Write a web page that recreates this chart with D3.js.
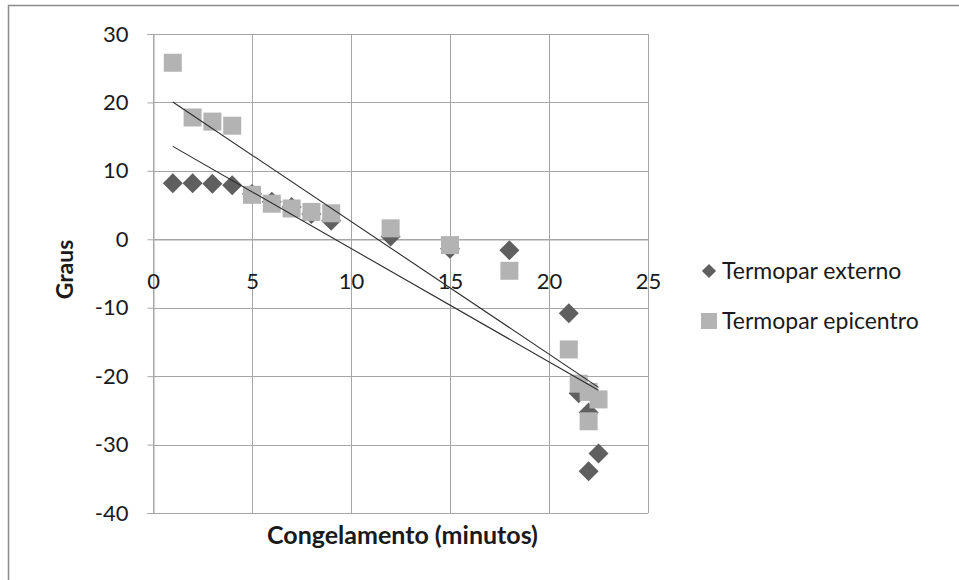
<!DOCTYPE html>
<html>
<head>
<meta charset="utf-8">
<script src="https://cdn.jsdelivr.net/npm/d3@7"></script>
<style>
  html, body { margin: 0; padding: 0; background: #fff; }
  svg { display: block; font-family: Lato, "Open Sans", sans-serif; }
</style>
</head>
<body>
<svg id="chart" width="959" height="580"></svg>
<script>
// Freezing time (minutes) and temperature readings of the two thermocouples
const minutos = [1, 2, 3, 4, 5, 6, 7, 8, 9, 12, 15, 18, 21, 21.5, 22, 22, 22.5];
const termoparExterno = [8.2, 8.2, 8.1, 7.9, 6.6, 5.5, 4.7, 3.7, 2.7, 0.4, -1.4, -1.6, -10.8, -22.5, -25.3, -33.9, -31.3];
const termoparEpicentro = [25.8, 17.8, 17.2, 16.6, 6.5, 5.2, 4.5, 4.0, 3.8, 1.6, -0.85, -4.6, -16.1, -21.1, -22.3, -26.6, -23.4];
const seriesNames = ["Termopar externo", "Termopar epicentro"];
const xTicks = [0, 5, 10, 15, 20, 25];
const yTicks = [-40, -30, -20, -10, 0, 10, 20, 30];

const svg = d3.select("#chart");
const W = 959, H = 580;
const plot = { left: 153, right: 648, top: 34, bottom: 513 };
const textColor = "#1a1a1a";
const tickFont = 22;

const x = d3.scaleLinear().domain([0, 25]).range([plot.left, plot.right]);
const y = d3.scaleLinear().domain([-40, 30]).range([plot.bottom, plot.top]);

const gridColor = "#a6a6a6";
const extColor = "#5f5f5f";
const epiColor = "#b3b3b3";

// outer frame of the chart
svg.append("path")
  .attr("d", `M8.5,${H} V5.5 H${W}`)
  .attr("fill", "none").attr("stroke", "#8c8c8c").attr("stroke-width", 1.5);

// gridlines
const grid = svg.append("g");
grid.selectAll("line.gy").data(yTicks).join("line")
  .attr("x1", plot.left).attr("x2", plot.right)
  .attr("y1", d => Math.round(y(d)) + 0.5).attr("y2", d => Math.round(y(d)) + 0.5)
  .attr("stroke", gridColor).attr("stroke-width", 1);
grid.selectAll("line.gx").data(xTicks).join("line")
  .attr("y1", plot.top).attr("y2", plot.bottom)
  .attr("x1", d => Math.round(x(d)) + 0.5).attr("x2", d => Math.round(x(d)) + 0.5)
  .attr("stroke", gridColor).attr("stroke-width", 1);

const fmt = d => String(d);

// y axis on the left edge
const yAxis = svg.append("g")
  .attr("transform", `translate(${Math.round(x(0)) + 0.5},0)`)
  .call(d3.axisLeft(y).tickValues(yTicks).tickSize(6).tickPadding(19).tickFormat(fmt));
yAxis.select(".domain").attr("stroke", gridColor);
yAxis.selectAll(".tick line").attr("stroke", gridColor);
yAxis.selectAll(".tick text")
  .attr("font-size", tickFont).attr("fill", textColor).attr("font-family", "Lato, sans-serif");

// x axis crossing at y = 0
const xAxis = svg.append("g")
  .attr("transform", `translate(0,${Math.round(y(0)) + 0.5})`)
  .call(d3.axisBottom(x).tickValues(xTicks).tickSize(6).tickPadding(28).tickFormat(fmt));
xAxis.select(".domain").attr("stroke", gridColor);
xAxis.selectAll(".tick line").attr("stroke", gridColor);
xAxis.selectAll(".tick text")
  .attr("font-size", tickFont).attr("fill", textColor).attr("font-family", "Lato, sans-serif");

const pts = minutos.map((m, i) => ({ m, ext: termoparExterno[i], epi: termoparEpicentro[i] }));

// markers: diamonds for the outer thermocouple, squares for the epicentre
svg.append("g").selectAll("path").data(pts).join("path")
  .attr("transform", d => `translate(${x(d.m)},${y(d.ext)}) rotate(45)`)
  .attr("d", d3.symbol().type(d3.symbolSquare).size(200))
  .attr("fill", extColor);

const sq = 18;
svg.append("g").selectAll("rect").data(pts).join("rect")
  .attr("x", d => x(d.m) - sq / 2).attr("y", d => y(d.epi) - sq / 2)
  .attr("width", sq).attr("height", sq)
  .attr("fill", epiColor);

// least-squares linear trend lines over the range of the data
function trend(xs, ys) {
  const mx = d3.mean(xs), my = d3.mean(ys);
  let sxy = 0, sxx = 0;
  xs.forEach((v, i) => { sxy += (v - mx) * (ys[i] - my); sxx += (v - mx) * (v - mx); });
  const b = sxy / sxx, a = my - b * mx;
  const [x0, x1] = d3.extent(xs);
  return [[x0, a + b * x0], [x1, a + b * x1]];
}
const line = d3.line().x(d => x(d[0])).y(d => y(d[1]));
[termoparExterno, termoparEpicentro].forEach(ys => {
  svg.append("path")
    .attr("d", line(trend(minutos, ys)))
    .attr("fill", "none").attr("stroke", "#2b2b2b").attr("stroke-width", 1.1);
});

// axis titles
svg.append("text")
  .attr("x", (plot.left + plot.right) / 2 + 2).attr("y", 544)
  .attr("text-anchor", "middle").attr("font-size", 25).attr("font-weight", "bold")
  .attr("fill", textColor).text("Congelamento (minutos)");
svg.append("text")
  .attr("transform", `translate(73,${(plot.top + plot.bottom) / 2 - 4}) rotate(-90)`)
  .attr("text-anchor", "middle").attr("font-size", 23).attr("font-weight", "bold")
  .attr("fill", textColor).text("Graus");

// legend
const legend = svg.append("g");
const legY = [271, 321];
legend.append("path")
  .attr("transform", `translate(709,${legY[0]}) rotate(45)`)
  .attr("d", d3.symbol().type(d3.symbolSquare).size(100))
  .attr("fill", extColor);
legend.append("rect")
  .attr("x", 701).attr("y", legY[1] - 8).attr("width", 16).attr("height", 16)
  .attr("fill", epiColor);
legend.selectAll("text").data(seriesNames).join("text")
  .attr("x", 722).attr("y", (d, i) => legY[i])
  .attr("dy", "0.35em").attr("font-size", 23).attr("fill", textColor)
  .text(d => d);
</script>
</body>
</html>
